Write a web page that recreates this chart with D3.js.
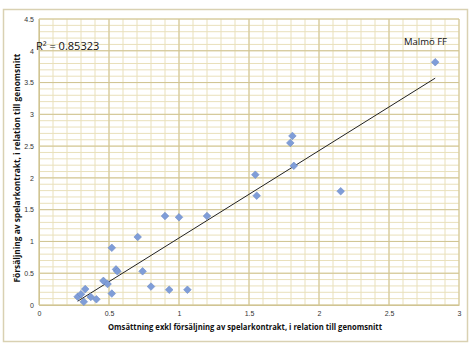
<!DOCTYPE html>
<html lang="sv">
<head>
<meta charset="UTF-8">
<title>Omsättning vs försäljning av spelarkontrakt</title>
<script src="https://d3js.org/d3.v7.min.js"></script>
<style>
  body { margin: 0; background: #fff; }
  text { font-family: "Open Sans", "Liberation Sans", sans-serif; }
</style>
</head>
<body>
<svg width="470" height="353"></svg>
<script>
// Omsättning exkl spelarförsäljning (x) och spelarförsäljning (y), relativt genomsnitt
const omsattning = [0.276, 0.30, 0.33, 0.32, 0.37, 0.41, 0.46, 0.49, 0.52, 0.52, 0.55, 0.56,
                    0.705, 0.74, 0.80, 0.93, 1.06, 0.90, 1.00, 1.20, 1.545, 1.555, 1.81,
                    1.795, 1.82, 2.155, 2.83];
const forsaljning = [0.13, 0.17, 0.25, 0.05, 0.126, 0.09, 0.38, 0.33, 0.90, 0.18, 0.56, 0.53,
                     1.07, 0.53, 0.29, 0.24, 0.24, 1.40, 1.38, 1.40, 2.05, 1.72, 2.66,
                     2.55, 2.19, 1.79, 3.82];
const xTicks = [0, 0.5, 1, 1.5, 2, 2.5, 3];
const yTicks = [0, 0.5, 1, 1.5, 2, 2.5, 3, 3.5, 4, 4.5];
const r2Label = "R² = 0.85323";
const highlight = "Malmö FF";

const data = omsattning.map((v, i) => ({ x: v, y: forsaljning[i] }));

const svg = d3.select("svg");
const margin = { top: 19, right: 11, bottom: 48, left: 39 };
const width = 470 - margin.left - margin.right;
const height = 353 - margin.top - margin.bottom;

// yttre ram
svg.append("rect")
    .attr("x", 3.5).attr("y", 9.5)
    .attr("width", 464).attr("height", 332)
    .attr("fill", "#fff")
    .attr("stroke", "#d9d1b2")
    .attr("stroke-width", 1.5);

const g = svg.append("g")
    .attr("transform", `translate(${margin.left},${margin.top})`);

const x = d3.scaleLinear().domain([0, 3]).range([0, width]);
const y = d3.scaleLinear().domain([0, 4.5]).range([height, 0]);

// rutnät, fina linjer var 0.1, grövre var 0.5
const minorX = d3.range(0, 31).map(d => d / 10);
const minorY = d3.range(0, 46).map(d => d / 10);

g.append("g").selectAll("line")
    .data(minorX)
    .join("line")
    .attr("x1", d => x(d)).attr("x2", d => x(d))
    .attr("y1", 0).attr("y2", height)
    .attr("stroke", "#e9e0bb").attr("stroke-width", 1);

g.append("g").selectAll("line")
    .data(minorY)
    .join("line")
    .attr("y1", d => y(d)).attr("y2", d => y(d))
    .attr("x1", 0).attr("x2", width)
    .attr("stroke", "#e9e0bb").attr("stroke-width", 1);

g.append("g").selectAll("line")
    .data(xTicks)
    .join("line")
    .attr("x1", d => x(d)).attr("x2", d => x(d))
    .attr("y1", 0).attr("y2", height)
    .attr("stroke", "#d0c493").attr("stroke-width", 1);

g.append("g").selectAll("line")
    .data(yTicks)
    .join("line")
    .attr("y1", d => y(d)).attr("y2", d => y(d))
    .attr("x1", 0).attr("x2", width)
    .attr("stroke", "#d0c493").attr("stroke-width", 1);

// axlar
const xAxis = g.append("g")
    .attr("transform", `translate(0,${height})`)
    .call(d3.axisBottom(x).tickValues(xTicks).tickSize(0).tickPadding(6).tickFormat(d3.format("")));
const yAxis = g.append("g")
    .call(d3.axisLeft(y).tickValues(yTicks).tickSize(0).tickPadding(5).tickFormat(d3.format("")));
[xAxis, yAxis].forEach(a => {
    a.select(".domain").attr("stroke", "#d0c493");
    a.selectAll("text").attr("font-size", 7).attr("fill", "#333")
        .style("font-family", "'Liberation Sans', Arial, sans-serif");
});

// trendlinje (minsta kvadrat)
const mx = d3.mean(data, d => d.x), my = d3.mean(data, d => d.y);
const slope = d3.sum(data, d => (d.x - mx) * (d.y - my)) / d3.sum(data, d => (d.x - mx) ** 2);
const intercept = my - slope * mx;
const [x0, x1] = d3.extent(data, d => d.x);
g.append("line")
    .attr("x1", x(x0)).attr("y1", y(slope * x0 + intercept))
    .attr("x2", x(x1)).attr("y2", y(slope * x1 + intercept))
    .attr("stroke", "#222").attr("stroke-width", 1);

// punkter
g.selectAll(".pt")
    .data(data)
    .join("path")
    .attr("class", "pt")
    .attr("d", "M0,-3.8L3.8,0L0,3.8L-3.8,0Z")
    .attr("transform", d => `translate(${x(d.x)},${y(d.y)})`)
    .attr("fill", "#7f9dd8")
    .attr("stroke", "#6b89c6")
    .attr("stroke-width", 0.6);

// texter
svg.append("text")
    .attr("x", 36).attr("y", 50)
    .attr("font-size", 11).attr("fill", "#111")
    .text(r2Label);

svg.append("text")
    .attr("x", 404).attr("y", 45)
    .attr("font-size", 9.5).attr("fill", "#111")
    .text(highlight);

svg.append("text")
    .attr("x", 245).attr("y", 330)
    .attr("text-anchor", "middle")
    .attr("font-size", 8.5).attr("font-weight", "bold").attr("fill", "#111")
    .attr("textLength", 274).attr("lengthAdjust", "spacingAndGlyphs")
    .text("Omsättning exkl försäljning av spelarkontrakt, i relation till genomsnitt");

svg.append("text")
    .attr("transform", "translate(20,168) rotate(-90)")
    .attr("text-anchor", "middle")
    .attr("font-size", 8.5).attr("font-weight", "bold").attr("fill", "#111")
    .attr("textLength", 229).attr("lengthAdjust", "spacingAndGlyphs")
    .text("Försäljning av spelarkontrakt, i relation till genomsnitt");
</script>
</body>
</html>
